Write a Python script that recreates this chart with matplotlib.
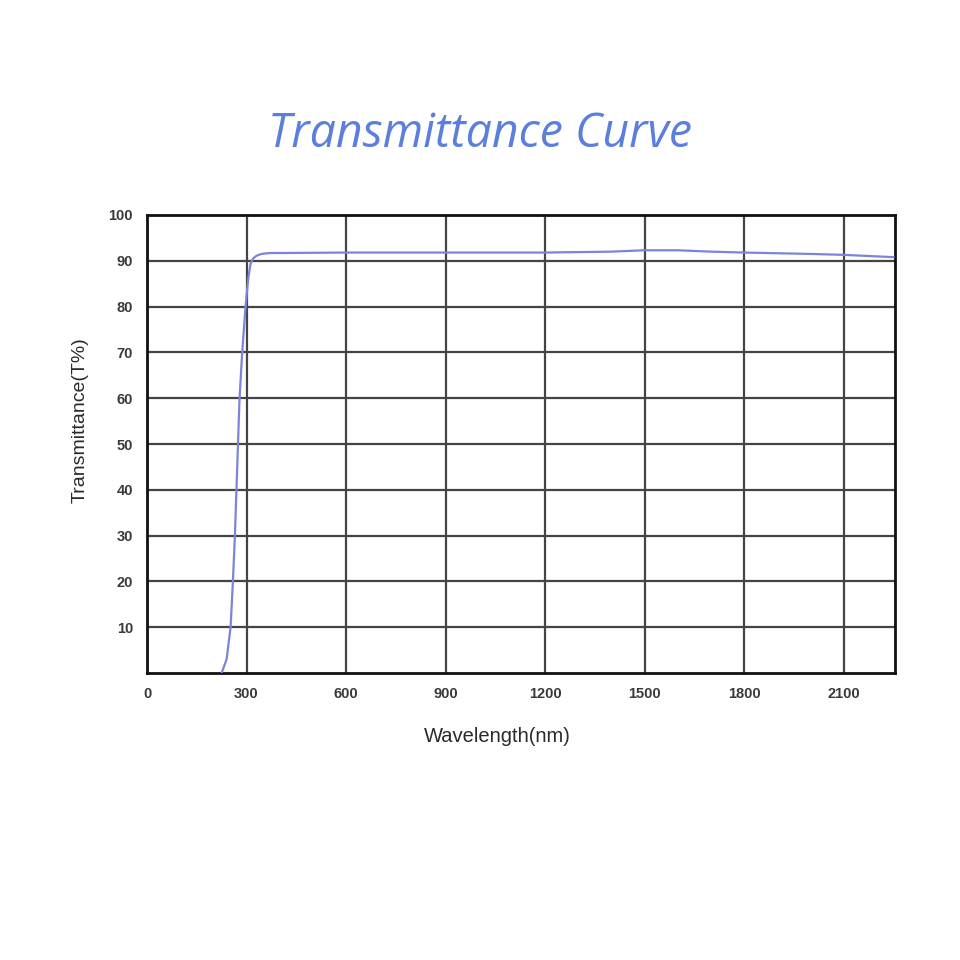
import matplotlib
matplotlib.use("Agg")
import matplotlib.pyplot as plt
import numpy as np

wavelength = [225, 240, 252, 259, 265, 272, 279, 287, 297, 305, 312, 320, 330, 345, 370, 400,
              600, 900, 1200, 1400, 1500, 1600, 1700, 1800, 2000, 2100, 2250]
transmittance = [0, 3, 10, 20, 30, 45, 60, 70, 80, 86, 89.3, 90.5, 91.1, 91.5, 91.7, 91.7,
                 91.8, 91.8, 91.8, 92.0, 92.3, 92.3, 92.0, 91.8, 91.5, 91.3, 90.8]
x_ticks = [0, 300, 600, 900, 1200, 1500, 1800, 2100]
y_ticks = [10, 20, 30, 40, 50, 60, 70, 80, 90, 100]

fig = plt.figure(figsize=(9.6, 9.6), dpi=100)
fig.patch.set_facecolor("white")
ax = fig.add_axes([147/960, 1-673/960, 748/960, 458/960])

ax.plot(wavelength, transmittance, color="#7a84da", lw=1.6, zorder=3)
ax.set_xlim(0, 2255)
ax.set_ylim(0, 100)
ax.set_xticks(x_ticks)
ax.set_yticks(y_ticks)
ax.grid(True, color="#444444", lw=1.6, zorder=1)
ax.tick_params(length=0, labelsize=10.5, colors="#3a3a3a")
ax.tick_params(axis="x", pad=10)
ax.tick_params(axis="y", pad=10)
for lab in ax.get_xticklabels() + ax.get_yticklabels():
    lab.set_fontfamily("Liberation Sans")
    lab.set_fontweight("bold")
for s in ax.spines.values():
    s.set_linewidth(2)
    s.set_color("#111111")

fig.text(497/960, 1-737/960, "Wavelength(nm)", ha="center", va="center",
         fontsize=14.5, family="Liberation Sans", color="#2a2a2a")
fig.text(80/960, 1-420/960, "Transmittance(T%)", ha="center", va="center",
         rotation=90, fontsize=14, family="Liberation Sans", color="#2a2a2a")
fig.text(480/960, 1-147/960, "Transmittance Curve", ha="center", va="baseline",
         fontsize=33.5, family="Open Sans", style="italic", color="#5b7fdc")

fig.savefig("out.png", dpi=100, facecolor="white")
